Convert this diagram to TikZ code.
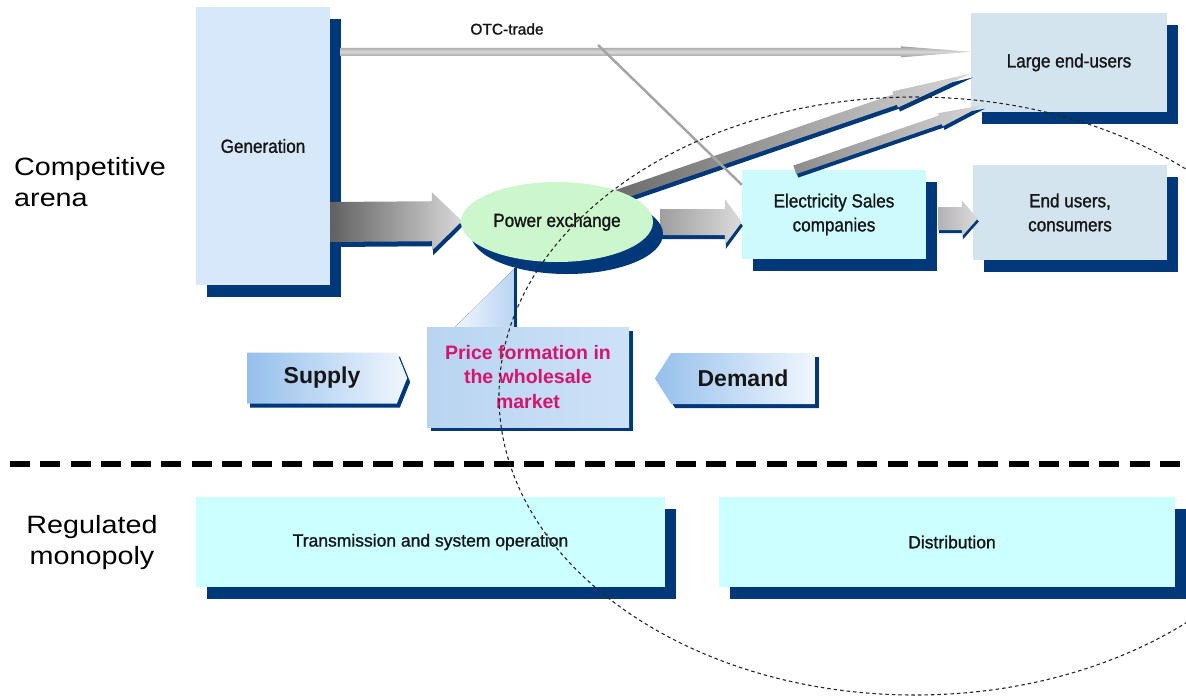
\documentclass[tikz,border=0pt]{standalone}
\usepackage{fontspec}
\setmainfont{Liberation Sans}
\newfontfamily\narrowfont[FakeStretch=0.9, FakeBold=1.2]{Liberation Sans}
\newfontfamily\plainfont[FakeBold=1.2]{Liberation Sans}
\newfontfamily\widefont[FakeStretch=1.15]{Liberation Sans}
\usetikzlibrary{calc,shapes.geometric,shapes.symbols,shadows}

\definecolor{navy}{RGB}{0,56,122}
\definecolor{genfill}{RGB}{214,232,250}
\definecolor{userfill}{RGB}{211,228,238}
\definecolor{salesfill}{RGB}{204,250,253}
\definecolor{gridfill}{RGB}{204,255,255}
\definecolor{pxfill}{RGB}{204,246,204}
\definecolor{pricered}{RGB}{214,20,110}
\definecolor{labeltext}{RGB}{22,22,22}
\definecolor{supplyblue}{RGB}{150,192,236}
\definecolor{paleblue}{RGB}{240,246,253}
\definecolor{linegray}{RGB}{165,165,165}

% Flat block arrow from #1 to #2: body half-width #3, head half-width #4,
% head length #5, shifted by (#6), painted with the options #7.
\newcommand\solidarrow[7]{%
  \coordinate (aS) at ($(#1)+(#6)$);
  \coordinate (aT) at ($(#2)+(#6)$);
  \coordinate (aH) at ($(aT)!#5!(aS)$);
  \path[#7] ($(aS)!#3!90:(aT)$) -- ($(aH)!#3!90:(aT)$) -- ($(aH)!#4!90:(aT)$)
    -- (aT) -- ($(aH)!#4!-90:(aT)$) -- ($(aH)!#3!-90:(aT)$)
    -- ($(aS)!#3!-90:(aT)$) -- cycle;}

\begin{document}
\begin{tikzpicture}[x=1pt,y=-1pt,
  box/.style={rectangle, inner sep=0pt, text=labeltext, align=center,
    font=\narrowfont\fontsize{19}{24}\selectfont},
  boxshadow/.style={drop shadow={shadow xshift=11pt, shadow yshift=-12pt,
    opacity=1, fill=navy}},
  gridbox/.style={box, boxshadow, fill=gridfill, minimum height=90,
    font=\plainfont\fontsize{17.5}{21}\selectfont},
  sideword/.style={inner sep=0pt, text=black, font=\widefont\fontsize{25}{31}\selectfont},
  tag/.style={signal, inner sep=0pt, minimum width=160, minimum height=51,
    text=labeltext, font=\bfseries\fontsize{23}{26}\selectfont},
]
\fill[white] (0,0) rectangle (1186,697);
\path[use as bounding box] (0,0) rectangle (1186,697);

% market blocks
\node[box, boxshadow, fill=genfill, minimum width=134, minimum height=278] (gen) at (263,146) {Generation};
\node[box, boxshadow, fill=userfill, minimum width=196, minimum height=99] (leu) at (1069,62.5) {Large end-users};
\node[box, boxshadow, fill=salesfill, minimum width=184, minimum height=89] (es) at (834,214.5) {Electricity Sales\\companies};
\node[box, boxshadow, fill=userfill, minimum width=194, minimum height=95] (eu) at (1070,212.5) {End users,\\consumers};

% network blocks
\node[gridbox, minimum width=469] (trans) at (430.5,542) {\raisebox{-3pt}{Transmission and system operation}};
\node[gridbox, minimum width=456] (dist) at (947,542) {\hspace*{10pt}Distribution};

\coordinate (pxc) at (557,222);

% OTC trade
\coordinate (otcs) at ($(gen.north east)+(10,45)$);
\coordinate (otct) at (leu.west |- otcs);
\solidarrow{otcs}{otct}{4pt}{5.5pt}{70pt}{0,0}{top color=gray!75, bottom color=gray!80, middle color=gray!30}
\node[inner sep=0pt, text=labeltext, font=\plainfont\fontsize{15.5}{18}\selectfont] (otc) at (507,29) {OTC-trade};

% generation to power exchange
\coordinate (gs) at (gen.east |- pxc);
\coordinate (gt) at ($(pxc)+(-95,-1)$);
\solidarrow{gs}{gt}{20pt}{29pt}{30pt}{1,5}{fill=navy}
\solidarrow{gs}{gt}{20pt}{29pt}{30pt}{0,0}{left color=black!62, right color=black!15}

% power exchange to sales companies
\coordinate (ps) at ($(pxc)+(103,0)$);
\coordinate (pt) at (es.west |- pxc);
\solidarrow{ps}{pt}{13pt}{23pt}{17pt}{1,4}{fill=navy}
\solidarrow{ps}{pt}{13pt}{23pt}{17pt}{0,0}{left color=black!38, right color=black!14}

% sales companies to end users
\coordinate (ss) at ($(es.east)+(12,4)$);
\coordinate (st) at ($(eu.west)+(5,6)$);
\solidarrow{ss}{st}{11.5pt}{18pt}{16pt}{1,3}{fill=navy}
\solidarrow{ss}{st}{11.5pt}{18pt}{16pt}{0,0}{left color=black!30, right color=black!14}

% power exchange and sales companies to large end-users
\coordinate (d1s) at ($(pxc)+(55,-25)$);
\coordinate (d1t) at ($(leu.west)+(0,11)$);
\solidarrow{d1s}{d1t}{5.5pt}{8.5pt}{80pt}{2,4}{fill=navy}
\solidarrow{d1s}{d1t}{5.5pt}{8.5pt}{80pt}{0,0}{left color=black!58, right color=black!16}
\coordinate (d2s) at ($(es.north west)+(53,0)$);
\coordinate (d2t) at ($(leu.south west)+(12,-7)$);
\solidarrow{d2s}{d2t}{4.5pt}{7pt}{45pt}{2,3.5}{fill=navy}
\solidarrow{d2s}{d2t}{4.5pt}{7pt}{45pt}{0,0}{left color=black!45, right color=black!16}

% bilateral line into the sales companies
\coordinate (cross) at (598,45);
\draw[linegray, line width=2.5pt] (cross) -- ($(es.north west)+(0,15)$);

% power exchange
\node[ellipse, inner sep=0pt, fill=pxfill, minimum width=192, minimum height=80,
  drop shadow={shadow xshift=10pt, shadow yshift=-12pt, opacity=1, fill=navy},
  text=labeltext, font=\narrowfont\fontsize{19}{22}\selectfont] (px) at (pxc) {Power exchange};

% price formation call-out
\coordinate (pricec) at (528,377);
\node[rectangle, fill=navy, minimum width=202, minimum height=100] (priceshade) at ($(pricec)+(4,4)$) {};
\coordinate (ptip) at ($(pxc)+(-42,46)$);
\fill[left color=paleblue, right color={rgb,255:red,185;green,212;blue,242}]
  ($(pricec)+(-73,-50)$) -- (ptip) -- ($(pricec)+(-13,-50)$) -- cycle;
\draw[navy, line width=3pt] (ptip) -- ($(pricec)+(-13,-48)$);
\node[rectangle, inner sep=0pt, minimum width=202, minimum height=100, align=center,
  left color={rgb,255:red,185;green,212;blue,241}, middle color={rgb,255:red,236;green,244;blue,253},
  right color={rgb,255:red,205;green,226;blue,247},
  text=pricered, font=\bfseries\fontsize{19.5}{24.5}\selectfont] (price) at (pricec)
  {Price formation in\\the wholesale\\market};

% supply and demand tags
\node[tag, signal to=east, signal pointer angle=136, fill=navy] (supplyshade) at (325,382) {};
\node[tag, signal to=east, signal pointer angle=136, left color=supplyblue, right color=paleblue] (supply) at (322,378) {Supply};
\node[tag, signal to=west, signal pointer angle=115, fill=navy] (demandshade) at (747,382.5) {};
\node[tag, signal to=west, signal pointer angle=115, left color=supplyblue, right color=paleblue] (demand) at (743,378.5) {Demand};

% arena labels
\node[sideword, anchor=west, align=left] (comp) at (14,182.5) {Competitive\\arena};
\node[sideword, align=center] (reg) at (92,543) {Regulated\\monopoly};

% boundary between competitive and regulated parts
\coordinate (sepl) at (10,464);
\coordinate (sepr) at (1180,464);
\draw[line width=6pt, dash pattern=on 20pt off 10.26pt] (sepl) -- (sepr);

% scope outline
\draw[black!85, line width=1.1pt, dash pattern=on 3.5pt off 3pt] (915,396) ellipse [x radius=416, y radius=299];
\end{tikzpicture}
\end{document}
